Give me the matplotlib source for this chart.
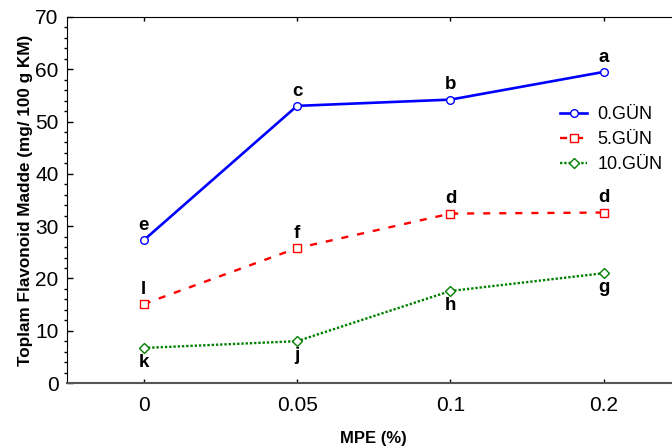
import matplotlib
matplotlib.use("Agg")
import matplotlib.pyplot as plt
from matplotlib.ticker import MultipleLocator

plt.rcParams['font.family'] = ['Liberation Sans', 'DejaVu Sans']

# MPE levels and total flavonoid content per storage day
mpe_labels = ['0', '0.05', '0.1', '0.2']
day0 = [27.3, 53.0, 54.2, 59.5]
day5 = [15.1, 25.8, 32.4, 32.6]
day10 = [6.7, 8.0, 17.6, 21.0]

# significance letters (above or below the point)
letters0 = ['e', 'c', 'b', 'a']
letters5 = ['l', 'f', 'd', 'd']
letters10 = ['k', 'j', 'h', 'g']

fig = plt.figure(figsize=(6.72, 4.48), dpi=100)
ax = fig.add_axes([67 / 672, 65 / 448, 613.5 / 672, 366 / 448])

x = range(len(mpe_labels))
ax.plot(x, day0, color='#0000ff', lw=1.9, ls='-', marker='o', ms=5.5,
        mfc='white', mec='#0000ff', mew=1, label='0.GÜN')
ax.plot(x, day5, color='#ff0000', lw=1.7, ls=(0, (3, 3.8)), marker='s', ms=6,
        mfc='white', mec='#ff0000', mew=1, label='5.GÜN')
ax.plot(x, day10, color='#008000', lw=1.7, ls=(0, (1, 0.8)), marker='D', ms=5.5,
        mfc='white', mec='#008000', mew=1, label='10.GÜN')

letter_font = dict(fontsize=13.5, fontweight='bold')
for xi, v, t in zip(x, day0, letters0):
    ax.annotate(t, (xi, v), xytext=(0, 4.5), textcoords='offset points',
                ha='center', va='bottom', **letter_font)
for xi, v, t in zip(x, day5, letters5):
    ax.annotate(t, (xi, v), xytext=(0, 4.5), textcoords='offset points',
                ha='center', va='bottom', **letter_font)
for xi, v, t in zip(x, day10, letters10):
    ax.annotate(t, (xi, v), xytext=(0, -4.5), textcoords='offset points',
                ha='center', va='top', **letter_font)

ax.set_xlim(-0.5, 3.5)
ax.set_ylim(0, 70)
ax.set_xticks(list(x))
ax.set_xticklabels(mpe_labels)
ax.yaxis.set_major_locator(MultipleLocator(10))
ax.yaxis.set_minor_locator(MultipleLocator(2))
ax.tick_params(axis='both', direction='in', labelsize=15, top=True, right=False)
ax.tick_params(axis='y', which='major', length=4, width=1, pad=6)
ax.tick_params(axis='y', which='minor', length=2, width=1)
ax.tick_params(axis='x', length=3, width=1, pad=9)
ax.spines['right'].set_visible(False)
ax.spines['bottom'].set_color('#555555')
ax.spines['bottom'].set_linewidth(1.5)

ax.set_xlabel('MPE (%)', fontsize=12, fontweight='bold', labelpad=12)
ax.set_ylabel('Toplam Flavonoid Madde (mg/ 100 g KM)', fontsize=12.3,
              fontweight='bold', labelpad=2)

leg = ax.legend(loc='upper left', bbox_to_anchor=(0.804, 0.757), frameon=False,
                fontsize=13, handlelength=1.5, handletextpad=0.55,
                labelspacing=0.45, borderpad=0, borderaxespad=0)

fig.savefig('out.png', dpi=100)
